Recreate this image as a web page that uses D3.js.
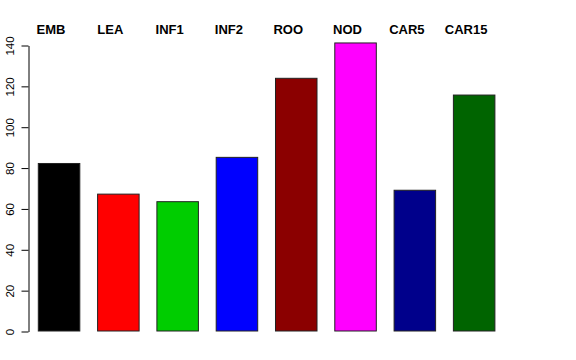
<!DOCTYPE html>
<html>
<head>
<style>
body { margin:0; background:#fff; }
svg text { font-family: "Liberation Sans", Arial, sans-serif; }
.axis path, .axis line { stroke:#000; }
</style>
</head>
<body>
<svg id="chart" width="576" height="360"></svg>
<script src="https://cdn.jsdelivr.net/npm/d3@7"></script>
<script>

// data
let categories = ["EMB", "LEA", "INF1", "INF2", "ROO", "NOD", "CAR5", "CAR15"];
let values = [82, 67, 63.3, 85, 123.7, 141, 68.9, 115.5];
let barColors = ["#000000", "#ff0000", "#00cd00", "#0000ff", "#8b0000", "#ff00ff", "#00008b", "#006400"];
let yTicks = [0, 20, 40, 60, 80, 100, 120, 140];

let svg = d3.select("#chart");

let x = d3.scaleBand()
    .domain(categories)
    .range([38.3, 494.9])
    .paddingInner(0.3)
    .paddingOuter(0);

let y = d3.scaleLinear()
    .domain([0, 140])
    .range([331, 45]);

// y axis, R style with rotated labels
let yAxis = d3.axisLeft(y)
    .tickValues(yTicks)
    .tickSize(7)
    .tickSizeOuter(0);

let ga = svg.append("g")
    .attr("class", "axis")
    .attr("transform", "translate(28.5,0.5)")
    .call(yAxis);

ga.selectAll(".tick text")
    .attr("transform", "rotate(-90)")
    .attr("x", 0)
    .attr("y", -15)
    .attr("dy", 0)
    .attr("text-anchor", "middle")
    .attr("fill", "#000")
    .style("font-size", "11.5px")
    .style("font-family", "'Liberation Sans', Arial, sans-serif");

// bars
svg.append("g")
  .selectAll("rect")
  .data(categories)
  .enter().append("rect")
    .attr("x", function(d) { return x(d); })
    .attr("y", function(d, i) { return y(values[i]); })
    .attr("width", x.bandwidth())
    .attr("height", function(d, i) { return y(0) - y(values[i]); })
    .attr("fill", function(d, i) { return barColors[i]; })
    .attr("stroke", "#222")
    .attr("stroke-width", 1);

// category labels along the top
svg.append("g")
  .selectAll("text")
  .data(categories)
  .enter().append("text")
    .attr("x", function(d) { return x(d) + x.bandwidth() / 2 - 8; })
    .attr("y", 34)
    .attr("text-anchor", "middle")
    .style("font-size", "13px")
    .style("font-weight", "bold")
    .text(function(d) { return d; });

</script>
</body>
</html>
